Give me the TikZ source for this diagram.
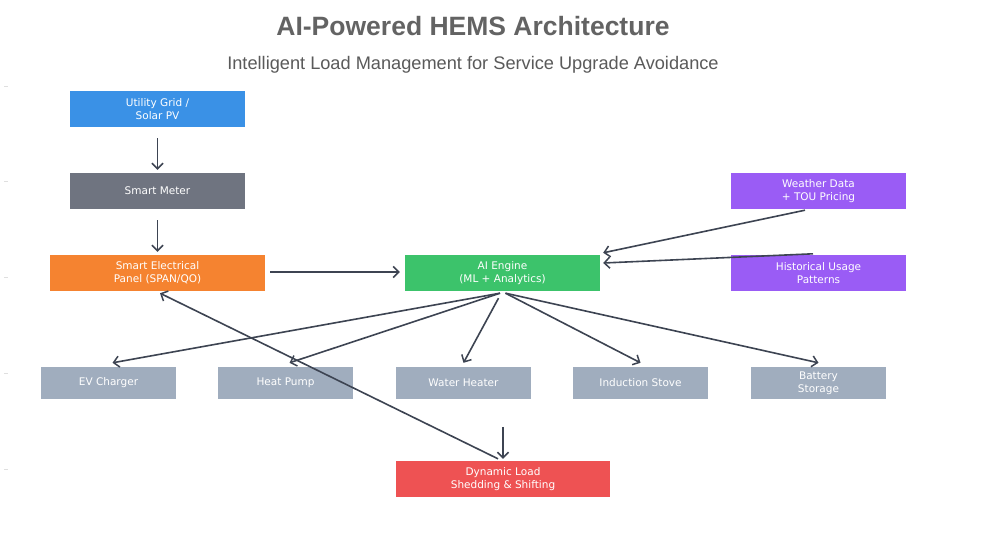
\documentclass[tikz,border=0pt]{standalone}
\usepackage{fontspec}
\setmainfont{DejaVu Sans}
\newfontfamily\titlefont{Liberation Sans}
\usetikzlibrary{arrows.meta,calc}
\definecolor{cblue}{HTML}{3A91E6}
\definecolor{cmeter}{HTML}{6F7480}
\definecolor{corange}{HTML}{F58330}
\definecolor{cgreen}{HTML}{3CC36B}
\definecolor{cpurple}{HTML}{9A5CF5}
\definecolor{cslate}{HTML}{A0ADBE}
\definecolor{cred}{HTML}{EE5253}
\definecolor{carrow}{HTML}{3D4452}
\definecolor{ctitle}{HTML}{636363}
\definecolor{csub}{HTML}{5A5A5A}
\begin{document}
\begin{tikzpicture}[x=1pt,y=-1pt,
  box/.style={rectangle, inner sep=0pt, text=white, align=center,
    font=\fontsize{10.5}{13}\selectfont},
  bigbox/.style={box, minimum height=36pt},
  loadbox/.style={box, fill=cslate, minimum width=135pt, minimum height=32pt},
  arr/.style={draw=carrow, line width=1.6pt,
    -{Straight Barb[length=5.5pt,width=11pt,line width=1.5pt]}},
  tick/.style={draw=gray!25, line width=0.6pt}]
\useasboundingbox[fill=white] (0,0) rectangle (985,540);
% faint axis ticks
\foreach \yy in {86,181,277,373,469} \draw[tick] (4,\yy) -- (8,\yy);
% title
\node[font=\titlefont\bfseries\fontsize{26.5}{30}\selectfont, text=ctitle] (title) at (473,26) {AI-Powered HEMS Architecture};
\node[font=\titlefont\fontsize{18.2}{22}\selectfont, text=csub] (subtitle) at (473,65) {Intelligent Load Management for Service Upgrade Avoidance};
% nodes
\node[bigbox, fill=cblue, minimum width=175pt] (util) at (157.5,109) {Utility Grid /\\Solar PV};
\node[bigbox, fill=cmeter, minimum width=175pt] (meter) at (157.5,191) {Smart Meter};
\node[bigbox, fill=corange, minimum width=215pt] (panel) at (157.5,273) {Smart Electrical\\Panel (SPAN/QO)};
\node[bigbox, fill=cgreen, minimum width=195pt] (ai) at (502.5,273) {AI Engine\\(ML + Analytics)};
\node[bigbox, fill=cpurple, minimum width=175pt] (weather) at (818.5,191) {Weather Data\\+ TOU Pricing};
\node[bigbox, fill=cpurple, minimum width=175pt] (hist) at (818.5,273) {Historical Usage\\Patterns};
\node[loadbox] (ev) at (108.5,383) {EV Charger};
\node[loadbox] (hp) at (285.5,383) {Heat Pump};
\node[loadbox] (wh) at (463.5,383) {Water Heater};
\node[loadbox] (ind) at (640.5,383) {Induction Stove};
\node[loadbox] (bat) at (818.5,383) {Battery\\Storage};
\node[bigbox, fill=cred, minimum width=214pt] (dyn) at (503,479) {Dynamic Load\\Shedding \& Shifting};
% connectors
\draw[arr] ($(util.south)+(0,11)$) -- ($(meter.north)+(0,-3)$);
\draw[arr] ($(meter.south)+(0,11)$) -- ($(panel.north)+(0,-3)$);
\draw[arr] ($(panel.east)+(5,-1)$) -- ($(ai.west)+(-5,-1)$);
\draw[arr] ($(weather.south)+(-13.5,1)$) -- ($(ai.north east)+(3,-2)$);
\draw[arr] ($(hist.north)+(-5.5,-1)$) -- ($(ai.east)+(3,-10)$);
\draw[arr] ($(ai.south)+(-2.5,2)$) -- ($(ev.north)+(4,-4)$);
\draw[arr] ($(ai.south)+(-2.5,2)$) -- ($(hp.north)+(4,-4)$);
\draw[arr] ($(ai.south)+(-4,7)$) -- ($(wh.north)+(0,-4)$);
\draw[arr] ($(ai.south)+(3,2)$) -- ($(ind.north)+(0,-4)$);
\draw[arr] ($(ai.south)+(3,2)$) -- ($(bat.north)+(0,-4)$);
\draw[arr] ($(dyn.north)+(0,-34)$) -- ($(dyn.north)+(0,-2)$);
\draw[arr] ($(dyn.north)+(-5,-2)$) -- ($(panel.south)+(2.5,2)$);
\end{tikzpicture}
\end{document}
